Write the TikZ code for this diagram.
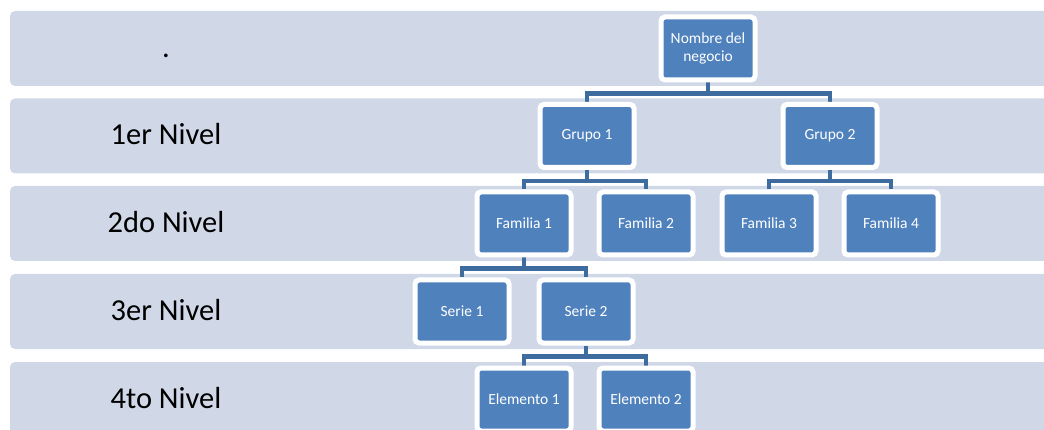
\documentclass[tikz,border=0pt]{standalone}
\usepackage{fontspec}
\setmainfont{Carlito}
\usetikzlibrary{backgrounds}
\definecolor{azulclaro}{RGB}{208,216,232}
\definecolor{azulcaja}{RGB}{79,129,189}
\definecolor{azullinea}{RGB}{62,108,158}

\begin{document}
\begin{tikzpicture}[x=1pt,y=-1pt,
  bloque/.style={draw=white,line width=5pt,fill=azulcaja,rounded corners=4pt,
    minimum width=94pt,minimum height=63pt,inner sep=0pt,text=white,
    font=\fontsize{15.5}{18.5}\selectfont,align=center},
  nivel/.style={anchor=base,font=\fontsize{30.5}{36}\selectfont},
  enlace/.style={draw=azullinea,line width=4.5pt}]
\useasboundingbox (0,0) rectangle (1044,430);

\begin{pgfonlayer}{background}
\foreach \t in {11,98.5,186,274,362}
  \fill[azulclaro,rounded corners=5pt] (10,\t) rectangle (1070,{\t+75});
\end{pgfonlayer}

\node[nivel] (l0) at (166,57.5) {.};
\node[nivel] (l1) at (166,144.5) {1er Nivel};
\node[nivel] (l2) at (166,232.5) {2do Nivel};
\node[nivel] (l3) at (166,320.5) {3er Nivel};
\node[nivel] (l4) at (166,408.5) {4to Nivel};

\node[bloque] (n) at (708,48.5) {Nombre del\\negocio};
\node[bloque] (g1) at (587,136) {Grupo 1};
\node[bloque] (g2) at (830,136) {Grupo 2};
\node[bloque] (f1) at (524,223.5) {Familia 1};
\node[bloque] (f2) at (646,223.5) {Familia 2};
\node[bloque] (f3) at (769,223.5) {Familia 3};
\node[bloque] (f4) at (891,223.5) {Familia 4};
\node[bloque] (s1) at (462,311.5) {Serie 1};
\node[bloque] (s2) at (586,311.5) {Serie 2};
\node[bloque] (e1) at (524,399.5) {Elemento 1};
\node[bloque] (e2) at (646,399.5) {Elemento 2};

\begin{pgfonlayer}{background}
\draw[enlace] (n.south) -- ++(0,11) -| (g1.north);
\draw[enlace] (n.south) -- ++(0,11) -| (g2.north);
\draw[enlace] (g1.south) -- ++(0,11) -| (f1.north);
\draw[enlace] (g1.south) -- ++(0,11) -| (f2.north);
\draw[enlace] (g2.south) -- ++(0,11) -| (f3.north);
\draw[enlace] (g2.south) -- ++(0,11) -| (f4.north);
\draw[enlace] (f1.south) -- ++(0,11) -| (s1.north);
\draw[enlace] (f1.south) -- ++(0,11) -| (s2.north);
\draw[enlace] (s2.south) -- ++(0,11) -| (e1.north);
\draw[enlace] (s2.south) -- ++(0,11) -| (e2.north);
\end{pgfonlayer}
\end{tikzpicture}
\end{document}
